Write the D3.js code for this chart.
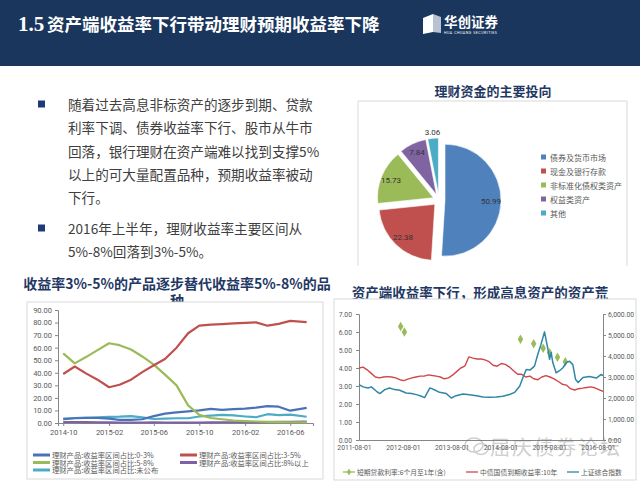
<!DOCTYPE html>
<html>
<head>
<meta charset="utf-8">
<script src="https://cdn.jsdelivr.net/npm/d3@7"></script>
<style>
  body { margin: 0; background: #fff; }
  svg { display: block; }
</style>
</head>
<body>
<svg id="slide" width="640" height="482"></svg>
<script>
// ---- data ----
let headerTitle = '资产端收益率下行带动理财预期收益率下降'
let bullet1 = ['随着过去高息非标资产的逐步到期、贷款', '利率下调、债券收益率下行、股市从牛市', '回落，银行理财在资产端难以找到支撑5%', '以上的可大量配置品种，预期收益率被动', '下行。']
let bullet2 = ['2016年上半年，理财收益率主要区间从', '5%-8%回落到3%-5%。']

let pieTitle = '理财资金的主要投向'
let pieNames = ['债券及货币市场', '现金及银行存款', '非标准化债权类资产', '权益类资产', '其他']
let pieValues = [50.99, 22.38, 15.73, 7.84, 3.06]
let pieColors = ['#4f81bd', '#c0504d', '#9bbb59', '#8064a2', '#4bacc6']

let leftTitle = ['收益率3%-5%的产品逐步替代收益率5%-8%的品', '种']
let leftDates = ['2014-10-01', '2014-11-01', '2014-12-01', '2015-01-01', '2015-02-01', '2015-03-01', '2015-04-01', '2015-05-01',
  '2015-06-01', '2015-07-01', '2015-08-01', '2015-09-01', '2015-10-01', '2015-11-01', '2015-12-01', '2016-01-01',
  '2016-02-01', '2016-03-01', '2016-04-01', '2016-05-01', '2016-06-01', '2016-07-15']
let share03 = [3.0, 3.8, 4.0, 4.0, 3.5, 2.5, 2.5, 3.0, 5.5, 7.5, 8.5, 9.3, 10.0, 11.3, 10.5, 11.0, 11.5, 12.3, 13.5, 13.0, 9.8, 12.0]
let share35 = [39, 45, 39.5, 34.5, 28.5, 30.5, 34.5, 40.5, 46, 51, 60, 71.5, 77.6, 78.3, 78.8, 79.3, 79.7, 80.1, 77.5, 79.0, 81.3, 80.3]
let share58 = [55.5, 47.5, 52.5, 58, 63.5, 62, 58.5, 53, 46.5, 38.5, 30, 14, 6.5, 4, 3, 2, 1.5, 1.2, 0.9, 0.7, 0.6, 0.5]
let share8p = [0.8, 0.8, 0.7, 0.6, 0.5, 0.4, 0.4, 0.4, 0.5, 0.4, 0.3, 0.3, 0.4, 0.5, 0.6, 0.6, 0.7, 0.7, 0.8, 0.9, 1.0, 1.1]
let shareNa = [3.5, 4.0, 4.3, 4.5, 4.8, 5.0, 5.5, 4.5, 3.2, 3.5, 3.8, 3.8, 5.2, 5.8, 6.4, 6.0, 5.2, 4.6, 7.0, 6.3, 6.6, 5.0]
let leftNames = ['理财产品:收益率区间占比:0-3%', '理财产品:收益率区间占比:3-5%', '理财产品:收益率区间占比:5-8%', '理财产品:收益率区间占比:8%以上', '理财产品:收益率区间占比:未公布']
let leftColors = ['#4a72b8', '#c0504d', '#9bbb59', '#7f5fa6', '#4bacc6']
let leftXTicks = ['2014-10-01', '2015-02-01', '2015-06-01', '2015-10-01', '2016-02-01', '2016-06-01']
let leftYTicks = [0, 10, 20, 30, 40, 50, 60, 70, 80, 90]

let rightTitle = '资产端收益率下行，形成高息资产的资产荒'
let loanDates = ['2012-06-08', '2012-07-06', '2014-11-22', '2015-03-01', '2015-05-11', '2015-06-28', '2015-08-26', '2015-10-24']
let loanRate = [6.31, 6.00, 5.60, 5.35, 5.10, 4.85, 4.60, 4.35]
let bondStart = '2011-08-01'
let bondYield = [4.00, 4.05, 3.90, 3.70, 3.50, 3.45, 3.50, 3.52, 3.50, 3.45,
  3.35, 3.30, 3.38, 3.45, 3.50, 3.55, 3.55, 3.62, 3.58, 3.55,
  3.50, 3.40, 3.45, 3.60, 3.80, 4.00, 4.10, 4.62, 4.55, 4.50,
  4.50, 4.45, 4.35, 4.15, 4.10, 4.25, 4.20, 4.05, 3.85, 3.65,
  3.65, 3.50, 3.55, 3.40, 3.35, 3.50, 3.58, 3.50, 3.40, 3.25,
  3.10, 3.05, 2.85, 2.78, 2.85, 2.88, 2.92, 2.95, 2.90, 2.80, 2.70]
let sseDates = ['2011-08-01', '2011-09-01', '2011-10-07', '2011-11-01', '2011-12-10', '2012-01-04', '2012-02-10', '2012-03-16',
  '2012-04-24', '2012-06-01', '2012-07-19', '2012-08-28', '2012-10-04', '2012-11-10', '2012-12-04', '2013-01-13',
  '2013-02-19', '2013-03-26', '2013-05-16', '2013-06-22', '2013-07-28', '2013-09-18', '2013-11-07', '2013-12-28',
  '2014-02-15', '2014-04-04', '2014-05-25', '2014-07-13', '2014-09-01', '2014-10-10', '2014-11-16', '2014-12-10',
  '2015-01-04', '2015-02-01', '2015-03-07', '2015-04-01', '2015-04-25', '2015-05-21', '2015-06-16', '2015-06-28',
  '2015-07-10', '2015-07-22', '2015-08-16', '2015-09-10', '2015-10-06', '2015-11-01', '2015-11-25', '2015-12-19',
  '2016-01-09', '2016-01-28', '2016-03-04', '2016-04-22', '2016-06-12', '2016-07-19', '2016-08-01']
let sseIndex = [2640, 2530, 2480, 2530, 2320, 2210, 2400, 2480,
  2400, 2370, 2240, 2210, 2160, 2080, 2020, 2480,
  2380, 2270, 2210, 2000, 2110, 2190, 2160, 2110,
  2050, 2040, 2050, 2080, 2170, 2270, 2560, 2960,
  3360, 3330, 3520, 4080, 4560, 5150, 4320, 3840,
  4170, 3690, 3200, 3300, 3440, 3690, 3750, 3590,
  2880, 2740, 2980, 3020, 2950, 3120, 3060]
let rightNames = ['短期贷款利率:6个月至1年(含)', '中债国债到期收益率:10年', '上证综合指数']
let rightColors = ['#9bbb59', '#d0474a', '#2f86a6']
let rightXTicks = ['2011-08-01', '2012-08-01', '2013-08-01', '2014-08-01', '2015-08-01', '2016-08-01']
let rightYTicks = [0, 1, 2, 3, 4, 5, 6, 7]
let rightY2Ticks = [0, 1000, 2000, 3000, 4000, 5000, 6000]

// ---- drawing ----
let cjk = '"Noto Sans CJK SC", "Noto Sans", sans-serif'
let parse = d3.timeParse('%Y-%m-%d')
let svg = d3.select('#slide')
svg.append('rect').attr('width', 640).attr('height', 482).attr('fill', '#fff')

// header band
svg.append('rect').attr('width', 640).attr('height', 66).attr('fill', '#1b365d')
svg.append('text').attr('x', 18).attr('y', 31)
  .attr('fill', '#fff').attr('font-family', '"Liberation Serif", serif')
  .attr('font-weight', 'bold').attr('font-size', 21).text('1.5')
svg.append('text').attr('x', 47).attr('y', 31)
  .attr('fill', '#fff').attr('font-family', cjk)
  .attr('font-weight', 'bold').attr('font-size', 17.5).text(headerTitle)
// logo
svg.append('polygon').attr('points', '423,18 433,14 433,32 423,34').attr('fill', '#ffffff')
svg.append('polygon').attr('points', '433,14 441,17 441,33 433,32').attr('fill', '#b8c2d2')
svg.append('text').attr('x', 444).attr('y', 27).attr('fill', '#fff')
  .attr('font-family', cjk).attr('font-weight', 'bold').attr('font-size', 13.5).text('华创证券')
svg.append('text').attr('x', 444).attr('y', 34).attr('fill', '#fff')
  .attr('font-family', 'Roboto, sans-serif').attr('font-size', 3.6)
  .attr('textLength', 53).text('HUA CHUANG SECURITIES')

// bullets
let drawBullet = (lines, y0) => {
  svg.append('rect').attr('x', 38).attr('y', y0 - 3.5).attr('width', 7).attr('height', 7).attr('fill', '#1f3a78')
  svg.selectAll(null).data(lines).enter().append('text')
    .attr('x', 68).attr('y', (d, i) => y0 + i * 23.3)
    .attr('dominant-baseline', 'central')
    .attr('font-family', cjk).attr('font-size', 13.6).attr('fill', '#404040')
    .text(d => d)
}
drawBullet(bullet1, 104)
drawBullet(bullet2, 228)

// pie chart
svg.append('text').attr('x', 493).attr('y', 90).attr('text-anchor', 'middle').attr('dominant-baseline', 'central')
  .attr('font-family', cjk).attr('font-weight', 'bold').attr('font-size', 13).attr('fill', '#1f3864').text(pieTitle)
svg.append('path').attr('d', 'M358,266V101H627V266').attr('fill', 'none').attr('stroke', '#d9d9d9')

let pieCx = 439, pieCy = 200, pieR = 56, explode = 6
let slices = d3.pie().sort(null).value(d => d)(pieValues)
let arc = d3.arc().innerRadius(0).outerRadius(pieR)
let pieG = svg.append('g').attr('transform', 'translate(' + pieCx + ',' + pieCy + ')')
let mid = d => (d.startAngle + d.endAngle) / 2
pieG.selectAll('path').data(slices).enter().append('path')
  .attr('d', arc)
  .attr('transform', d => 'translate(' + explode * Math.sin(mid(d)) + ',' + (-explode * Math.cos(mid(d))) + ')')
  .attr('fill', (d, i) => pieColors[i])
  .attr('stroke', '#fff').attr('stroke-width', 0.6)
pieG.selectAll('text').data(slices).enter().append('text')
  .attr('x', (d, i) => (i < 4 ? 46 + explode : 68) * Math.sin(mid(d)))
  .attr('y', (d, i) => -(i < 4 ? 46 + explode : 68) * Math.cos(mid(d)))
  .attr('text-anchor', 'middle').attr('dominant-baseline', 'central')
  .attr('font-family', 'Roboto, sans-serif').attr('font-size', 8).attr('fill', '#333')
  .text(d => d3.format('.2f')(d.data))

let pieLegend = svg.append('g')
pieLegend.selectAll('rect').data(pieNames).enter().append('rect')
  .attr('x', 541).attr('y', (d, i) => 157 + i * 14 - 2.5).attr('width', 5).attr('height', 5)
  .attr('fill', (d, i) => pieColors[i])
pieLegend.selectAll('text').data(pieNames).enter().append('text')
  .attr('x', 550).attr('y', (d, i) => 157 + i * 14).attr('dominant-baseline', 'central')
  .attr('font-family', cjk).attr('font-size', 8).attr('fill', '#595959').text(d => d)

// left line chart
svg.selectAll(null).data(leftTitle).enter().append('text')
  .attr('x', 177).attr('y', (d, i) => 283 + i * 17).attr('text-anchor', 'middle').attr('dominant-baseline', 'central')
  .attr('font-family', cjk).attr('font-weight', 'bold').attr('font-size', 14).attr('fill', '#1f3864').text(d => d)
svg.append('rect').attr('x', 27).attr('y', 302).attr('width', 296).attr('height', 177)
  .attr('fill', '#fff').attr('stroke', '#d9d9d9')

let lx = d3.scaleTime().domain([parse('2014-09-17'), parse('2016-08-01')]).range([58, 313])
let ly = d3.scaleLinear().domain([0, 90]).range([423, 310])
let styleAxis = (g, size) => {
  g.selectAll('path, line').attr('stroke', '#868686')
  g.selectAll('text').attr('fill', '#595959').attr('font-family', 'Roboto, sans-serif').attr('font-size', size)
}
svg.append('g').attr('transform', 'translate(0,423)')
  .call(d3.axisBottom(lx).tickValues(leftXTicks.map(parse)).tickFormat(d3.timeFormat('%Y-%m')).tickSizeOuter(0).tickSize(3).tickPadding(4))
  .call(g => styleAxis(g, 7.5))
svg.append('g').attr('transform', 'translate(58,0)')
  .call(d3.axisLeft(ly).tickValues(leftYTicks).tickFormat(d3.format('.2f')).tickSizeOuter(0).tickSize(3).tickPadding(3))
  .call(g => styleAxis(g, 7.5))

let leftSeries = [share03, share35, share58, share8p, shareNa]
let leftLine = d3.line().x((d, i) => lx(parse(leftDates[i]))).y(d => ly(d))
svg.append('g').selectAll('path').data([share8p, shareNa, share03, share58, share35]).enter().append('path')
  .attr('d', d => leftLine(d)).attr('fill', 'none')
  .attr('stroke', d => leftColors[leftSeries.indexOf(d)]).attr('stroke-width', 2.2)
  .attr('stroke-linejoin', 'round')

let leftLegend = svg.append('g')
let legendPos = (i) => [i % 2 === 0 ? 33 : 180, 455 + Math.floor(i / 2) * 7.5]
leftNames.forEach((name, i) => {
  let p = legendPos(i)
  leftLegend.append('line').attr('x1', p[0]).attr('x2', p[0] + 17).attr('y1', p[1]).attr('y2', p[1])
    .attr('stroke', leftColors[i]).attr('stroke-width', 3)
  leftLegend.append('text').attr('x', p[0] + 19).attr('y', p[1]).attr('dominant-baseline', 'central')
    .attr('font-family', cjk).attr('font-size', 7.3).attr('fill', '#595959').text(name)
})

// right chart
svg.append('text').attr('x', 480).attr('y', 292).attr('text-anchor', 'middle').attr('dominant-baseline', 'central')
  .attr('font-family', cjk).attr('font-weight', 'bold').attr('font-size', 13.5).attr('fill', '#1f3864').text(rightTitle)
svg.append('rect').attr('x', 334).attr('y', 299).attr('width', 302).attr('height', 181)
  .attr('fill', '#fff').attr('stroke', '#d9d9d9')

let rx = d3.scaleTime().domain([parse('2011-08-01'), parse('2016-08-01')]).range([359, 603])
let ryL = d3.scaleLinear().domain([0, 7]).range([440, 314])
let ryR = d3.scaleLinear().domain([0, 6000]).range([440, 314])
svg.append('g').attr('transform', 'translate(0,440)')
  .call(d3.axisBottom(rx).tickValues(rightXTicks.map(parse)).tickFormat(d3.timeFormat('%Y-%m-%d')).tickSizeOuter(0).tickSize(0).tickPadding(5))
  .call(g => styleAxis(g, 6.8))
  .call(g => g.selectAll('text').attr('dx', -5))
svg.append('g').attr('transform', 'translate(359,0)')
  .call(d3.axisLeft(ryL).tickValues(rightYTicks).tickFormat(d3.format('.2f')).tickSizeOuter(0).tickSize(3).tickPadding(4))
  .call(g => styleAxis(g, 6.8))
svg.append('g').attr('transform', 'translate(603,0)')
  .call(d3.axisRight(ryR).tickValues(rightY2Ticks).tickFormat(d3.format(',.2f')).tickSizeOuter(0).tickSize(3).tickPadding(2))
  .call(g => styleAxis(g, 6.8))

let bondStartDate = parse(bondStart)
let bondLine = d3.line().x((d, i) => rx(d3.timeMonth.offset(bondStartDate, i))).y(d => ryL(d))
let sseLine = d3.line().x((d, i) => rx(parse(sseDates[i]))).y(d => ryR(d))
let diamond = d3.symbol().type(d3.symbolDiamond).size(26)
svg.append('g').selectAll('path').data(loanRate).enter().append('path')
  .attr('d', diamond)
  .attr('transform', (d, i) => 'translate(' + rx(parse(loanDates[i])) + ',' + ryL(d) + ')')
  .attr('fill', rightColors[0])
svg.append('path').attr('d', bondLine(bondYield)).attr('fill', 'none')
  .attr('stroke', rightColors[1]).attr('stroke-width', 1.4).attr('stroke-linejoin', 'round')
svg.append('path').attr('d', sseLine(sseIndex)).attr('fill', 'none')
  .attr('stroke', rightColors[2]).attr('stroke-width', 1.5).attr('stroke-linejoin', 'round')

let rightLegendX = [343, 466, 567]
rightNames.forEach((name, i) => {
  let x = rightLegendX[i]
  svg.append('line').attr('x1', x).attr('x2', x + 12).attr('y1', 472).attr('y2', 472)
    .attr('stroke', rightColors[i]).attr('stroke-width', 1.3)
  if (i === 0) {
    svg.append('path').attr('d', d3.symbol().type(d3.symbolDiamond).size(14))
      .attr('transform', 'translate(' + (x + 6) + ',472)').attr('fill', rightColors[0])
  }
  svg.append('text').attr('x', x + 14).attr('y', 472).attr('dominant-baseline', 'central')
    .attr('font-family', cjk).attr('font-size', 6.8).attr('fill', '#595959').text(name)
})

// watermark
let wm = svg.append('g').attr('opacity', 0.35)
wm.append('ellipse').attr('cx', 474).attr('cy', 445).attr('rx', 9).attr('ry', 7)
  .attr('fill', 'none').attr('stroke', '#777').attr('stroke-width', 1.5)
wm.append('ellipse').attr('cx', 481).attr('cy', 449).attr('rx', 7).attr('ry', 5.5)
  .attr('fill', 'none').attr('stroke', '#777').attr('stroke-width', 1.5)
wm.append('text').attr('x', 490).attr('y', 446).attr('dominant-baseline', 'central')
  .attr('font-family', cjk).attr('font-size', 20).attr('letter-spacing', 2).attr('fill', '#777').text('屈庆债券论坛')
</script>
</body>
</html>
